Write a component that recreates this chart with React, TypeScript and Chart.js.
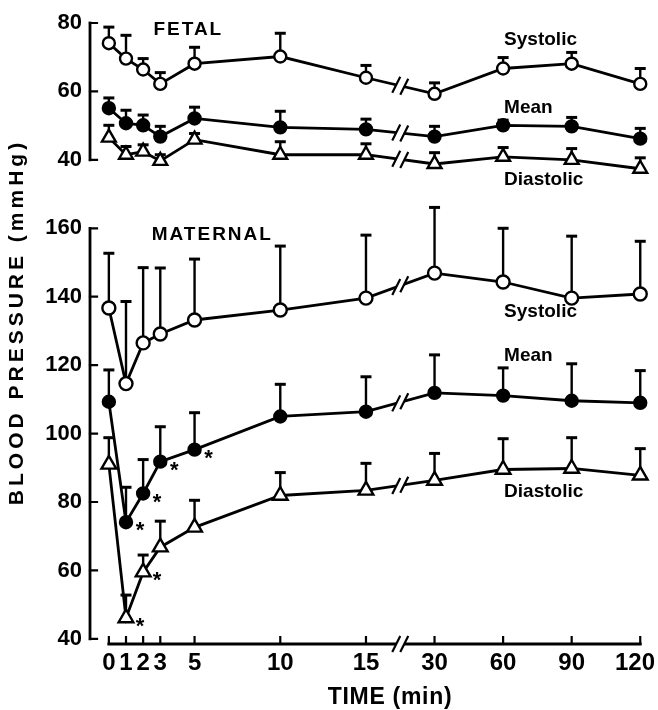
import React, { useEffect, useRef } from 'react';
import { Chart, registerables } from 'chart.js';

Chart.register(...registerables);

// ---------- data ----------
const TIMES = [0, 1, 2, 3, 5, 10, 15, 30, 60, 90, 120];
const TIME_TICK_LABELS = ['0', '1', '2', '3', '5', '10', '15', '30', '60', '90', '120'];

const FETAL_SYSTOLIC = [74.1, 69.6, 66.4, 62.2, 68.1, 70.2, 64.0, 59.3, 66.7, 68.1, 62.2];
const FETAL_SYSTOLIC_SE = [4.7, 6.8, 3.2, 3.3, 4.8, 6.8, 3.6, 3.2, 3.2, 3.3, 4.5];
const FETAL_MEAN = [55.1, 50.7, 50.1, 46.8, 52.1, 49.5, 48.9, 46.8, 50.1, 49.8, 46.2];
const FETAL_MEAN_SE = [3.0, 3.8, 3.0, 3.0, 3.3, 4.7, 3.0, 3.0, 1.5, 2.6, 3.0];
const FETAL_DIASTOLIC = [46.5, 41.5, 42.4, 39.7, 45.9, 41.5, 41.5, 38.8, 40.9, 40.0, 37.4];
const FETAL_DIASTOLIC_SE = [3.6, 2.4, 2.0, 1.8, 1.8, 3.8, 3.2, 3.3, 2.7, 3.3, 3.2];

const MATERNAL_SYSTOLIC = [136.7, 114.6, 126.5, 129.1, 133.2, 136.1, 139.6, 146.9, 144.3, 139.6, 140.8];
const MATERNAL_SYSTOLIC_SE = [16.0, 24.0, 22.0, 19.3, 17.8, 18.7, 18.4, 19.2, 15.7, 18.1, 15.4];
const MATERNAL_MEAN = [109.3, 74.1, 82.5, 91.8, 95.3, 105.0, 106.4, 111.9, 111.1, 109.6, 109.0];
const MATERNAL_MEAN_SE = [9.3, 10.2, 9.9, 10.2, 10.8, 9.4, 10.2, 11.1, 8.1, 10.8, 9.4];
const MATERNAL_DIASTOLIC = [91.0, 46.1, 59.5, 66.8, 72.6, 81.9, 83.4, 86.3, 89.5, 89.8, 87.8];
const MATERNAL_DIASTOLIC_SE = [7.8, 6.7, 5.0, 7.6, 7.9, 6.7, 7.9, 7.9, 9.0, 9.0, 7.8];

// indices of time points marked significant (*)
const MATERNAL_MEAN_SIG = [1, 2, 3, 4];
const MATERNAL_DIASTOLIC_SIG = [1, 2];

const FETAL_TICKS = [40, 60, 80];
const MATERNAL_TICKS = [40, 60, 80, 100, 120, 140, 160];

const FONT = "'Liberation Sans', Arial, sans-serif";

// broken time axis: linear up to 15 min, then 30 min per 4 units from 30 min on
const BREAK_FROM = 15;
const BREAK_TO = 30;
const BREAK_GAP_UNITS = 4;
const LATE_MIN_PER_UNIT = 7.5;
const timeToAxis = (t: number) =>
  t <= BREAK_FROM ? t : BREAK_FROM + BREAK_GAP_UNITS + (t - BREAK_TO) / LATE_MIN_PER_UNIT;
const BREAK_AXIS = BREAK_FROM + BREAK_GAP_UNITS / 2;

// text annotations (in data coordinates of their panel)
const SERIES_LABELS = [
  { text: 'Systolic', axis: 'yF', t: 60, v: 75.0 },
  { text: 'Mean', axis: 'yF', t: 60, v: 55.1 },
  { text: 'Diastolic', axis: 'yF', t: 60, v: 34.1 },
  { text: 'Systolic', axis: 'yM', t: 60, v: 135.5 },
  { text: 'Mean', axis: 'yM', t: 60, v: 122.7 },
  { text: 'Diastolic', axis: 'yM', t: 60, v: 82.9 },
];
const PANEL_LABELS = [
  { text: 'FETAL', axis: 'yF', t: 2.6, v: 77.9 },
  { text: 'MATERNAL', axis: 'yM', t: 2.5, v: 158.0 },
];

function drawBreak(ctx: CanvasRenderingContext2D, x: number, y: number, slope: number) {
  const gap = 4;
  const hx = 4;
  const hy = 8;
  const y1 = y - slope * gap;
  const y2 = y + slope * gap;
  ctx.save();
  ctx.fillStyle = '#fff';
  ctx.beginPath();
  ctx.moveTo(x - gap - hx, y1 + hy);
  ctx.lineTo(x - gap + hx, y1 - hy);
  ctx.lineTo(x + gap + hx, y2 - hy);
  ctx.lineTo(x + gap - hx, y2 + hy);
  ctx.closePath();
  ctx.fill();
  ctx.strokeStyle = '#000';
  ctx.lineWidth = 2.2;
  ctx.beginPath();
  ctx.moveTo(x - gap - hx, y1 + hy);
  ctx.lineTo(x - gap + hx, y1 - hy);
  ctx.moveTo(x + gap - hx, y2 + hy);
  ctx.lineTo(x + gap + hx, y2 - hy);
  ctx.stroke();
  ctx.restore();
}

const bpPlugin = {
  id: 'bpPlugin',
  beforeDatasetsDraw(chart: any) {
    const ctx: CanvasRenderingContext2D = chart.ctx;
    const x = chart.scales.x;
    const area = chart.chartArea;
    ctx.save();
    ctx.strokeStyle = '#000';
    ctx.lineCap = 'square';
    // y axes (two panels)
    const axes: [string, number[]][] = [['yF', FETAL_TICKS], ['yM', MATERNAL_TICKS]];
    for (const [id, ticks] of axes) {
      const s = chart.scales[id];
      const ax = area.left;
      ctx.lineWidth = 2.8;
      ctx.beginPath();
      ctx.moveTo(ax, s.getPixelForValue(ticks[0]));
      ctx.lineTo(ax, s.getPixelForValue(ticks[ticks.length - 1]));
      ctx.stroke();
      ctx.lineWidth = 2.2;
      ctx.beginPath();
      for (const v of ticks) {
        const py = s.getPixelForValue(v);
        ctx.moveTo(ax, py);
        ctx.lineTo(ax + 7, py);
      }
      ctx.stroke();
    }
    // x axis with break
    const by = area.bottom;
    const x0 = x.getPixelForValue(timeToAxis(TIMES[0]));
    const x1 = x.getPixelForValue(timeToAxis(TIMES[TIMES.length - 1]));
    const xb = x.getPixelForValue(BREAK_AXIS);
    ctx.lineWidth = 2.8;
    ctx.beginPath();
    ctx.moveTo(x0, by);
    ctx.lineTo(x1, by);
    ctx.stroke();
    ctx.lineWidth = 2.2;
    ctx.beginPath();
    for (const t of TIMES) {
      const px = x.getPixelForValue(timeToAxis(t));
      ctx.moveTo(px, by);
      ctx.lineTo(px, by - 7);
    }
    ctx.stroke();
    ctx.restore();
    drawBreak(ctx, xb, by, 0);

    // x tick labels
    ctx.save();
    ctx.fillStyle = '#000';
    ctx.font = `bold 24px ${FONT}`;
    ctx.textAlign = 'center';
    ctx.textBaseline = 'middle';
    TIMES.forEach((t, i) => {
      const label = TIME_TICK_LABELS[i];
      const w = ctx.measureText(label).width;
      let px = x.getPixelForValue(timeToAxis(t));
      px = Math.min(px, chart.width - 3 - w / 2);
      ctx.fillText(label, px, by + 19);
    });
    ctx.restore();

    // error bars (upward, mean + SE)
    ctx.save();
    ctx.strokeStyle = '#000';
    chart.data.datasets.forEach((ds: any, di: number) => {
      const meta = chart.getDatasetMeta(di);
      const ys = chart.scales[ds.yAxisID];
      meta.data.forEach((pt: any, i: number) => {
        const top = ys.getPixelForValue(ds.data[i].y + ds.se[i]);
        ctx.lineWidth = 2.4;
        ctx.beginPath();
        ctx.moveTo(pt.x, pt.y);
        ctx.lineTo(pt.x, top);
        ctx.stroke();
        ctx.lineWidth = 3;
        ctx.beginPath();
        ctx.moveTo(pt.x - 5.5, top);
        ctx.lineTo(pt.x + 5.5, top);
        ctx.stroke();
      });
    });
    ctx.restore();
  },
  afterDatasetsDraw(chart: any) {
    const ctx: CanvasRenderingContext2D = chart.ctx;
    const x = chart.scales.x;
    const xb = x.getPixelForValue(BREAK_AXIS);
    const iA = TIMES.indexOf(BREAK_FROM);
    const iB = TIMES.indexOf(BREAK_TO);
    // breaks on each line
    chart.data.datasets.forEach((_ds: any, di: number) => {
      const meta = chart.getDatasetMeta(di);
      const a = meta.data[iA];
      const b = meta.data[iB];
      const slope = (b.y - a.y) / (b.x - a.x);
      const yb = a.y + slope * (xb - a.x);
      drawBreak(ctx, xb, yb, slope);
    });

    // significance asterisks
    ctx.save();
    ctx.fillStyle = '#000';
    ctx.font = `bold 22px ${FONT}`;
    ctx.textAlign = 'center';
    ctx.textBaseline = 'middle';
    const sig: [number, number[]][] = [[4, MATERNAL_MEAN_SIG], [5, MATERNAL_DIASTOLIC_SIG]];
    for (const [di, idxs] of sig) {
      const meta = chart.getDatasetMeta(di);
      for (const i of idxs) {
        const pt = meta.data[i];
        ctx.fillText('*', pt.x + 14, pt.y + 9);
      }
    }
    ctx.restore();

    // series labels
    ctx.save();
    ctx.fillStyle = '#000';
    ctx.textBaseline = 'middle';
    ctx.textAlign = 'left';
    ctx.font = `bold 19px ${FONT}`;
    for (const l of SERIES_LABELS) {
      const s = chart.scales[l.axis];
      ctx.fillText(l.text, x.getPixelForValue(timeToAxis(l.t)) + 1, s.getPixelForValue(l.v));
    }
    (ctx as any).letterSpacing = '2px';
    for (const l of PANEL_LABELS) {
      const s = chart.scales[l.axis];
      ctx.fillText(l.text, x.getPixelForValue(timeToAxis(l.t)), s.getPixelForValue(l.v));
    }
    // axis titles
    ctx.textAlign = 'center';
    ctx.font = `bold 23px ${FONT}`;
    (ctx as any).letterSpacing = '0.7px';
    ctx.fillText('TIME (min)', 390, 698);
    ctx.translate(17, 322);
    ctx.rotate(-Math.PI / 2);
    ctx.font = `bold 21px ${FONT}`;
    (ctx as any).letterSpacing = '4px';
    ctx.fillText('BLOOD PRESSURE (mmHg)', 0, 0);
    ctx.restore();
  },
};

function makeDataset(label: string, values: number[], se: number[], yAxisID: string,
  pointStyle: string, filled: boolean, radius: number) {
  return {
    label,
    yAxisID,
    se,
    data: TIMES.map((t, i) => ({ x: timeToAxis(t), y: values[i] })),
    borderColor: '#000',
    borderWidth: 2.8,
    pointStyle,
    pointRadius: radius,
    pointBorderWidth: 2.4,
    pointBorderColor: '#000',
    pointBackgroundColor: filled ? '#000' : '#fff',
    fill: false,
    tension: 0,
    clip: false,
  };
}

export default function App() {
  const ref = useRef<HTMLCanvasElement>(null);
  useEffect(() => {
    if (!ref.current) return;
    const hiddenGrid = { display: false, drawTicks: false };
    const tickFont = { family: FONT, size: 22, weight: 'bold' };
    const chart = new Chart(ref.current, {
      type: 'line',
      data: {
        datasets: [
          makeDataset('Fetal systolic', FETAL_SYSTOLIC, FETAL_SYSTOLIC_SE, 'yF', 'circle', false, 6),
          makeDataset('Fetal mean', FETAL_MEAN, FETAL_MEAN_SE, 'yF', 'circle', true, 6),
          makeDataset('Fetal diastolic', FETAL_DIASTOLIC, FETAL_DIASTOLIC_SE, 'yF', 'triangle', false, 8),
          makeDataset('Maternal systolic', MATERNAL_SYSTOLIC, MATERNAL_SYSTOLIC_SE, 'yM', 'circle', false, 6.5),
          makeDataset('Maternal mean', MATERNAL_MEAN, MATERNAL_MEAN_SE, 'yM', 'circle', true, 6),
          makeDataset('Maternal diastolic', MATERNAL_DIASTOLIC, MATERNAL_DIASTOLIC_SE, 'yM', 'triangle', false, 8.5),
        ] as any,
      },
      options: {
        responsive: false,
        animation: false,
        devicePixelRatio: 1,
        events: [],
        layout: { padding: { top: 23, right: 8, bottom: 0, left: 0 } },
        plugins: { legend: { display: false }, tooltip: { enabled: false } },
        scales: {
          x: {
            type: 'linear',
            position: 'bottom',
            min: -1.1,
            max: 31.4,
            grid: hiddenGrid,
            border: { display: false },
            ticks: { display: false },
            afterFit: (s: any) => { s.height = 66; s.paddingLeft = 0; s.paddingRight = 0; },
          },
          yF: {
            type: 'linear',
            position: 'left',
            stack: 'bp',
            stackWeight: 60,
            weight: 1,
            min: 20,
            max: 80,
            grid: hiddenGrid,
            border: { display: false },
            ticks: { color: '#000', padding: 8, font: tickFont },
            afterBuildTicks: (s: any) => { s.ticks = FETAL_TICKS.map((v) => ({ value: v })); },
            afterFit: (s: any) => { s.width = 90; s.paddingTop = 0; s.paddingBottom = 0; },
          },
          yM: {
            type: 'linear',
            position: 'left',
            stack: 'bp',
            stackWeight: 121.5,
            weight: 0,
            min: 38.5,
            max: 160,
            grid: hiddenGrid,
            border: { display: false },
            ticks: { color: '#000', padding: 8, font: tickFont },
            afterBuildTicks: (s: any) => { s.ticks = MATERNAL_TICKS.map((v) => ({ value: v })); },
            afterFit: (s: any) => { s.width = 90; s.paddingTop = 0; s.paddingBottom = 0; },
          },
        } as any,
      },
      plugins: [bpPlugin as any],
    });
    return () => chart.destroy();
  }, []);
  return (
    <div style={{ position: 'fixed', left: 0, top: 0, width: 658, height: 710, background: '#fff' }}>
      <canvas ref={ref} width={658} height={710} style={{ display: 'block' }} />
    </div>
  );
}
